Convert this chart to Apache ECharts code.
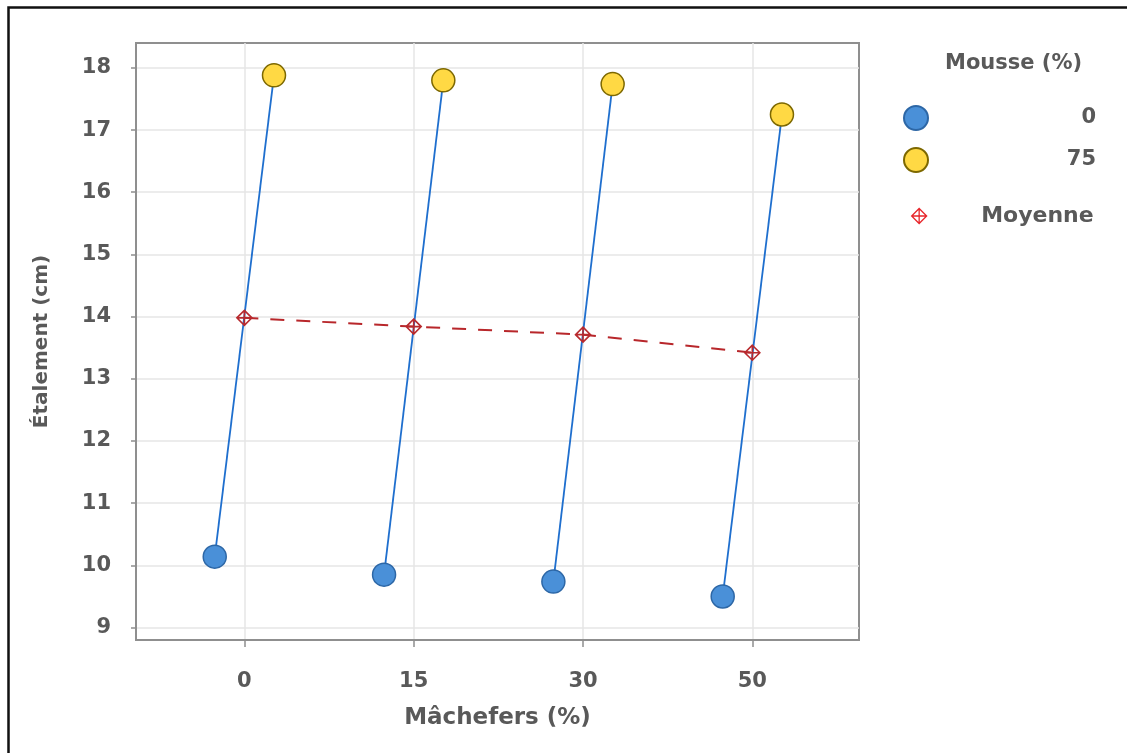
<!DOCTYPE html>
<html><head><meta charset="utf-8">
<script src="https://cdn.jsdelivr.net/npm/echarts@6/dist/echarts.min.js"></script>
<style>html,body{margin:0;padding:0;background:#fff}#c{width:1127px;height:753px}</style>
</head><body><div id="c"></div>
<script>
// ---- data ----
const MACHEFERS = ['0', '15', '30', '50'];
const MOUSSE_0 = [10.14, 9.85, 9.74, 9.50];
const MOUSSE_75 = [17.88, 17.80, 17.74, 17.25];
const MOYENNE = [13.98, 13.84, 13.71, 13.42];
const Y_TICKS = [9, 10, 11, 12, 13, 14, 15, 16, 17, 18];

// ---- styling / layout ----
const DODGE = 0.175;
const TXT = '#595959';
const FONT = 'DejaVu Sans';
const MEAN_PATH = 'path://M0,-10 L10,0 L0,10 L-10,0 Z M0,-10 L0,10 M-10,0 L10,0';

const chart = echarts.init(document.getElementById('c'), null, {renderer: 'canvas'});

const series = [];
MACHEFERS.forEach((m, i) => {
  series.push({
    type: 'line', name: 'seg' + i, silent: true, z: 2,
    data: [[i - DODGE, MOUSSE_0[i]], [i + DODGE, MOUSSE_75[i]]],
    showSymbol: false, symbol: 'none',
    lineStyle: {color: '#1f6fce', width: 1.8},
    legendHoverLink: false
  });
});
series.push({
  type: 'line', name: 'Moyenne', z: 4,
  data: MOYENNE.map((v, i) => [i, v]),
  symbol: MEAN_PATH, symbolSize: 15,
  itemStyle: {color: 'rgba(255,255,255,0)', borderColor: '#b82a2e', borderWidth: 1.6},
  lineStyle: {color: '#b8272b', width: 2, type: [14, 12]}
});
series.push({
  type: 'scatter', name: '0', z: 5,
  data: MOUSSE_0.map((v, i) => [i - DODGE, v]),
  symbol: 'circle', symbolSize: 23,
  itemStyle: {color: '#4a90d8', borderColor: '#2d67a6', borderWidth: 1.5, opacity: 1}
});
series.push({
  type: 'scatter', name: '75', z: 5,
  data: MOUSSE_75.map((v, i) => [i + DODGE, v]),
  symbol: 'circle', symbolSize: 23,
  itemStyle: {color: '#ffd944', borderColor: '#7d6800', borderWidth: 1.5, opacity: 1}
});

const legendText = {
  fontFamily: FONT, fontWeight: 'bold', fontSize: 21, color: TXT,
  rich: {r: {width: 163, align: 'right', fontFamily: FONT, fontWeight: 'bold', fontSize: 21, color: TXT}}
};

chart.setOption({
  animation: false,
  backgroundColor: '#fff',
  grid: {left: 136, top: 43, right: 268, bottom: 113, show: true, borderColor: '#8f8f8f', borderWidth: 2, backgroundColor: 'transparent'},
  xAxis: {
    type: 'value', min: -0.64, max: 3.63, interval: 1,
    axisLine: {show: true, onZero: false, lineStyle: {color: '#8f8f8f', width: 2}},
    axisTick: {show: true, length: 7, customValues: [0, 1, 2, 3], lineStyle: {color: '#8f8f8f', width: 1.5}},
    axisLabel: {customValues: [0, 1, 2, 3], formatter: v => MACHEFERS[Math.round(v)] ?? '', margin: 31,
      fontFamily: FONT, fontWeight: 'bold', fontSize: 21, color: TXT},
    splitLine: {show: true, lineStyle: {color: '#e6e6e6', width: 1.5}},
    name: 'Mâchefers (%)', nameLocation: 'middle', nameGap: 67,
    nameTextStyle: {fontFamily: FONT, fontWeight: 'bold', fontSize: 23, color: TXT}
  },
  yAxis: {
    type: 'value', min: 8.8, max: 18.4, interval: 1,
    axisLine: {show: true, onZero: false, lineStyle: {color: '#8f8f8f', width: 2}},
    axisTick: {show: true, length: 5, customValues: Y_TICKS, lineStyle: {color: '#8f8f8f', width: 1.5}},
    axisLabel: {customValues: Y_TICKS, margin: 25,
      fontFamily: FONT, fontWeight: 'bold', fontSize: 21, color: TXT},
    splitLine: {show: true, lineStyle: {color: '#e6e6e6', width: 1.5}},
    name: 'Étalement (cm)', nameLocation: 'middle', nameGap: 84,
    nameTextStyle: {fontFamily: FONT, fontWeight: 'bold', fontSize: 20, color: TXT}
  },
  title: {
    text: 'Mousse (%)', left: 940, top: 48,
    textStyle: {fontFamily: FONT, fontWeight: 'bold', fontSize: 21, color: TXT}
  },
  legend: [{
    data: ['0', '75'], orient: 'vertical', left: 898, top: 100,
    itemWidth: 24, itemHeight: 24, itemGap: 16, itemTextGap: 0,
    formatter: n => '{r|' + n + '}', textStyle: legendText, selectedMode: false
  }, {
    data: [{name: 'Moyenne', icon: MEAN_PATH}], orient: 'vertical', left: 906, top: 200,
    itemWidth: 15, itemHeight: 15, itemTextGap: 0,
    itemStyle: {color: 'rgba(255,255,255,0)', borderColor: '#e8262b', borderWidth: 1.3},
    lineStyle: {opacity: 0},
    formatter: n => '{r|' + n + '}',
    textStyle: Object.assign({}, legendText, {rich: {r: {width: 162, align: 'right', fontFamily: FONT, fontWeight: 'bold', fontSize: 22, color: TXT}}}),
    selectedMode: false
  }],
  graphic: [{
    type: 'rect', left: 6, top: 5, silent: true, z: 100,
    shape: {width: 1140, height: 770},
    style: {fill: 'none', stroke: '#111', lineWidth: 2.5}
  }],
  series: series
});
</script></body></html>
